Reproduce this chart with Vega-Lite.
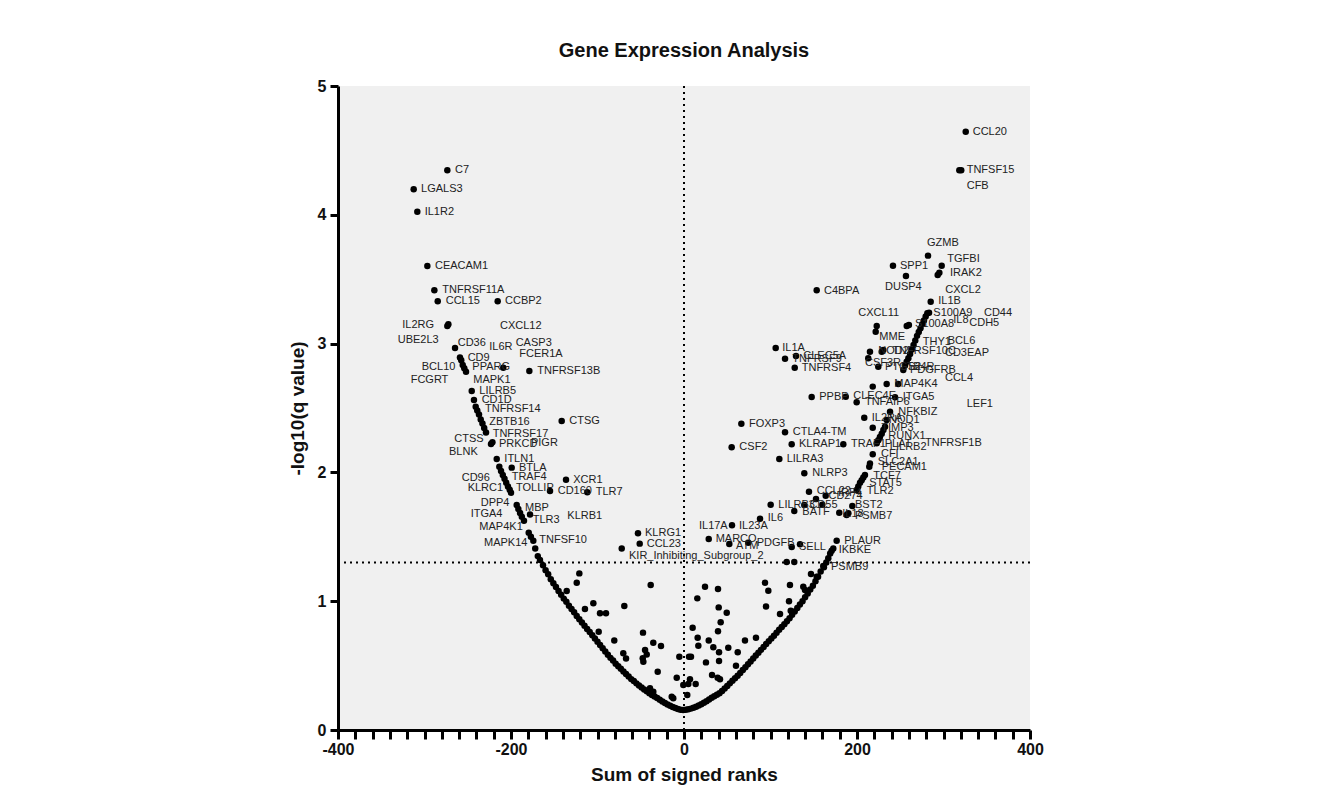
{
  "$schema": "https://vega.github.io/schema/vega-lite/v6.json",
  "width": 692,
  "height": 644,
  "autosize": {"type": "none"},
  "padding": {"left": 338, "top": 86, "right": 301, "bottom": 57},
  "background": "white",
  "title": {"text": "Gene Expression Analysis", "font": "Liberation Sans", "fontSize": 20, "fontWeight": "bold", "color": "#111", "anchor": "middle", "offset": 17},
  "config": {
    "view": {"fill": "#f0f0f0", "stroke": null},
    "axis": {"grid": false, "domainColor": "#000", "domainWidth": 3, "tickColor": "#000", "tickWidth": 3,
      "labelFont": "Liberation Sans", "labelFontSize": 16, "labelFontWeight": "bold", "labelColor": "#111",
      "titleFont": "Liberation Sans", "titleFontSize": 19, "titleFontWeight": "bold", "titleColor": "#111"}
  },
  "datasets": {
    "pts": [
      {"x":-273.6,"y":4.345},{"x":-312.5,"y":4.198},{"x":-308.3,"y":4.024},{"x":-296.7,"y":3.602},{"x":-288.6,"y":3.414},{"x":-284.7,"y":3.328},{"x":-215.4,"y":3.328},{"x":-273.6,"y":3.137},{"x":-272.4,"y":3.15},{"x":-264.7,"y":2.966},{"x":-259,"y":2.893},{"x":-257.5,"y":2.87},{"x":-255.8,"y":2.834},{"x":-254,"y":2.808},{"x":-252,"y":2.782},{"x":-208.9,"y":2.813},{"x":-178.8,"y":2.787},{"x":-245.4,"y":2.632},{"x":-242.8,"y":2.562},{"x":-240.8,"y":2.51},{"x":-239,"y":2.48},{"x":-237,"y":2.45},{"x":-235,"y":2.41},{"x":-233,"y":2.38},{"x":-231,"y":2.345},{"x":-228.9,"y":2.31},{"x":-141.4,"y":2.399},{"x":-223.1,"y":2.22},{"x":-221.5,"y":2.235},{"x":-216.5,"y":2.104},{"x":-199.2,"y":2.037},{"x":-213.5,"y":2.044},{"x":-211.5,"y":2.01},{"x":-209.5,"y":1.98},{"x":-207.5,"y":1.95},{"x":-205.5,"y":1.92},{"x":-203.5,"y":1.89},{"x":-201.5,"y":1.865},{"x":-200,"y":1.842},{"x":-136.4,"y":1.943},{"x":-154.9,"y":1.856},{"x":-111.8,"y":1.845},{"x":-193.4,"y":1.747},{"x":-191.5,"y":1.715},{"x":-189.5,"y":1.685},{"x":-187.5,"y":1.655},{"x":-185,"y":1.625},{"x":-178,"y":1.674},{"x":-179.5,"y":1.532},{"x":-177,"y":1.5},{"x":-174.2,"y":1.47},{"x":-172,"y":1.41},{"x":-53.2,"y":1.527},{"x":-51.2,"y":1.447},{"x":-72,"y":1.41},
      {"x":-169,"y":1.35},{"x":-166.5,"y":1.32},{"x":-163,"y":1.28},{"x":-160,"y":1.24},{"x":-157,"y":1.21},{"x":-154,"y":1.17},{"x":-151,"y":1.14},{"x":-148,"y":1.11},{"x":-145,"y":1.08},{"x":-142,"y":1.05},{"x":-139,"y":1.02},{"x":-136,"y":0.995},{"x":-133,"y":0.965},{"x":-130,"y":0.94},{"x":-127,"y":0.915},{"x":-124,"y":0.885},{"x":-121,"y":0.86},{"x":-118,"y":0.835},{"x":-115,"y":0.81},{"x":-112,"y":0.785},{"x":-109,"y":0.76},{"x":-106,"y":0.735},{"x":-103,"y":0.71},{"x":-100,"y":0.685},{"x":-97,"y":0.66},{"x":-94,"y":0.635},{"x":-91,"y":0.61},{"x":-88,"y":0.585},{"x":-85,"y":0.56},{"x":-82,"y":0.54},{"x":-79,"y":0.515},{"x":-76,"y":0.495},{"x":-73,"y":0.475},{"x":-70,"y":0.455},{"x":-67,"y":0.435},{"x":-64,"y":0.415},{"x":-61,"y":0.395},{"x":-58,"y":0.38},{"x":-55,"y":0.362},{"x":-52,"y":0.345},{"x":-49,"y":0.33},{"x":-46,"y":0.315},{"x":-43,"y":0.3},{"x":-40,"y":0.285},{"x":-37,"y":0.272},{"x":-34,"y":0.26},{"x":-31,"y":0.248},{"x":-28,"y":0.235},{"x":-25,"y":0.222},{"x":-22,"y":0.21},{"x":-19,"y":0.198},{"x":-16,"y":0.188},{"x":-13,"y":0.178},{"x":-10,"y":0.17},{"x":-7,"y":0.163},{"x":-4,"y":0.158},{"x":-1,"y":0.155},
      {"x":2,"y":0.157},{"x":5,"y":0.161},{"x":8,"y":0.166},{"x":11,"y":0.172},{"x":14,"y":0.18},{"x":17,"y":0.19},{"x":20,"y":0.2},{"x":23,"y":0.212},{"x":26,"y":0.224},{"x":29,"y":0.237},{"x":32,"y":0.25},{"x":35,"y":0.262},{"x":38,"y":0.274},{"x":41,"y":0.285},{"x":44,"y":0.302},{"x":47,"y":0.322},{"x":50,"y":0.342},{"x":53,"y":0.362},{"x":56,"y":0.382},{"x":59,"y":0.402},{"x":62,"y":0.422},{"x":65,"y":0.443},{"x":68,"y":0.465},{"x":71,"y":0.487},{"x":74,"y":0.51},{"x":77,"y":0.532},{"x":80,"y":0.555},{"x":83,"y":0.578},{"x":86,"y":0.6},{"x":89,"y":0.622},{"x":92,"y":0.645},{"x":95,"y":0.668},{"x":98,"y":0.69},{"x":101,"y":0.71},{"x":104,"y":0.732},{"x":107,"y":0.755},{"x":110,"y":0.778},{"x":113,"y":0.8},{"x":116,"y":0.822},{"x":119,"y":0.845},{"x":122,"y":0.868},{"x":125,"y":0.895},{"x":128,"y":0.92},{"x":131,"y":0.948},{"x":134,"y":0.975},{"x":137,"y":1.0},{"x":140,"y":1.03},{"x":143,"y":1.06},{"x":146,"y":1.09},{"x":149,"y":1.12},{"x":152,"y":1.155},{"x":155,"y":1.19},{"x":158,"y":1.23},{"x":161.8,"y":1.263},{"x":164.5,"y":1.3},{"x":166.8,"y":1.333},{"x":169,"y":1.37},{"x":170.7,"y":1.392},{"x":172.6,"y":1.41},{"x":176.5,"y":1.47},
      {"x":188,"y":1.669},{"x":190,"y":1.682},{"x":194.6,"y":1.739},{"x":179.5,"y":1.687},{"x":159.9,"y":1.749},{"x":139.1,"y":1.747},{"x":100.2,"y":1.749},{"x":127.5,"y":1.7},{"x":144.5,"y":1.85},{"x":152.6,"y":1.793},{"x":163.8,"y":1.819},{"x":139.1,"y":1.993},{"x":110.2,"y":2.104},{"x":124.5,"y":2.218},{"x":184.2,"y":2.218},{"x":55.1,"y":2.195},{"x":116.8,"y":2.311},{"x":66.3,"y":2.378},{"x":87.9,"y":1.641},{"x":55.5,"y":1.589},{"x":28.6,"y":1.483},{"x":52.4,"y":1.444},{"x":74.3,"y":1.454},{"x":124.5,"y":1.421},{"x":134.1,"y":1.442},{"x":118.7,"y":1.304},{"x":127.5,"y":1.304},
      {"x":199.6,"y":1.863},{"x":201.5,"y":1.89},{"x":203.5,"y":1.92},{"x":205.4,"y":1.94},{"x":207.3,"y":1.96},{"x":209.2,"y":1.98},{"x":214.2,"y":2.044},{"x":215,"y":2.07},{"x":218.2,"y":2.141},{"x":222.8,"y":2.226},{"x":224.6,"y":2.25},{"x":226.5,"y":2.275},{"x":228.6,"y":2.3},{"x":230.5,"y":2.33},{"x":232.4,"y":2.355},{"x":218.2,"y":2.347},{"x":234.3,"y":2.407},{"x":238.2,"y":2.471},{"x":208.4,"y":2.425},{"x":199.6,"y":2.544},{"x":187,"y":2.588},{"x":147.6,"y":2.585},{"x":244,"y":2.583},{"x":218.2,"y":2.666},{"x":234.3,"y":2.686},{"x":247.7,"y":2.686},{"x":224.6,"y":2.82},{"x":213,"y":2.886},{"x":215,"y":2.937},{"x":228.6,"y":2.937},{"x":230.4,"y":2.95},{"x":253.5,"y":2.795},{"x":255.5,"y":2.83},{"x":257.4,"y":2.86},{"x":259.4,"y":2.886},{"x":261.4,"y":2.92},{"x":263.4,"y":2.955},{"x":265.4,"y":2.99},{"x":267.4,"y":3.025},{"x":269.4,"y":3.06},{"x":271.4,"y":3.09},{"x":273.4,"y":3.12},{"x":275.4,"y":3.15},{"x":277.4,"y":3.18},{"x":279.4,"y":3.21},{"x":281.3,"y":3.235},{"x":283.3,"y":3.24},{"x":285.2,"y":3.325},{"x":222.8,"y":3.137},{"x":221.6,"y":3.092},{"x":257.5,"y":3.137},{"x":260,"y":3.144},{"x":153.4,"y":3.414},{"x":106,"y":2.966},{"x":116.8,"y":2.883},{"x":129.5,"y":2.904},{"x":128,"y":2.813},{"x":282.1,"y":3.683},{"x":241.6,"y":3.605},{"x":297.9,"y":3.605},{"x":293.3,"y":3.533},{"x":295.2,"y":3.551},{"x":256.6,"y":3.525},{"x":325.7,"y":4.645},{"x":318.3,"y":4.345},{"x":320.5,"y":4.345},
      {"x":-121,"y":1.216},{"x":-124,"y":1.144},{"x":-38.5,"y":1.126},{"x":-135.6,"y":1.079},{"x":-69,"y":0.963},{"x":-104.8,"y":0.984},{"x":-114.5,"y":0.939},{"x":-97.1,"y":0.906},{"x":-90.2,"y":0.906},{"x":-98.6,"y":0.763},{"x":-80.6,"y":0.694},{"x":-47.4,"y":0.756},{"x":-35.5,"y":0.678},{"x":-26.6,"y":0.652},{"x":-45,"y":0.621},{"x":-43.1,"y":0.587},{"x":-47.7,"y":0.557},{"x":-47,"y":0.53},{"x":-70.2,"y":0.595},{"x":-67,"y":0.556},{"x":-30.4,"y":0.453},{"x":-5.4,"y":0.569},{"x":5.8,"y":0.569},{"x":8.1,"y":0.569},{"x":-8.4,"y":0.406},{"x":-0.8,"y":0.349},{"x":5,"y":0.357},{"x":13.5,"y":0.357},{"x":6.9,"y":0.394},{"x":3.8,"y":0.272},{"x":-14.2,"y":0.259},{"x":-12.4,"y":0.246},{"x":-39.3,"y":0.324},{"x":-35.5,"y":0.297},
      {"x":24.3,"y":1.113},{"x":39.3,"y":1.095},{"x":15.4,"y":1.022},{"x":40.1,"y":0.952},{"x":49.4,"y":0.911},{"x":42.4,"y":0.836},{"x":39.3,"y":0.766},{"x":10,"y":0.794},{"x":15.8,"y":0.717},{"x":28.6,"y":0.694},{"x":16.6,"y":0.655},{"x":33.9,"y":0.642},{"x":40.5,"y":0.603},{"x":51.2,"y":0.639},{"x":62.1,"y":0.603},{"x":70.5,"y":0.694},{"x":83.2,"y":0.717},{"x":25.4,"y":0.525},{"x":40.5,"y":0.536},{"x":32.4,"y":0.427},{"x":38.9,"y":0.406},{"x":41.6,"y":0.394},{"x":60.1,"y":0.499},{"x":93.6,"y":1.144},{"x":97.5,"y":1.082},{"x":94.8,"y":0.958},{"x":122.5,"y":1.126},{"x":121.4,"y":0.999},{"x":111,"y":0.901},{"x":123.4,"y":0.926},{"x":137.9,"y":1.113},{"x":139.9,"y":1.087},{"x":146.8,"y":1.211},{"x":153.4,"y":1.19},{"x":161,"y":1.273}
    ],
    "labs": [
      {"gene":"C7","x":-264.7,"y":4.345},{"gene":"LGALS3","x":-304.0,"y":4.198},{"gene":"IL1R2","x":-299.8,"y":4.024},{"gene":"CEACAM1","x":-287.9,"y":3.602},{"gene":"TNFRSF11A","x":-279.4,"y":3.414},{"gene":"CCL15","x":-275.5,"y":3.328},{"gene":"CCBP2","x":-206.9,"y":3.328},
      {"gene":"IL2RG","x":-325.7,"y":3.144},{"gene":"CXCL12","x":-212.7,"y":3.139},{"gene":"UBE2L3","x":-331,"y":3.028},{"gene":"CD36","x":-261.6,"y":3.002},{"gene":"IL6R","x":-225.1,"y":2.976},{"gene":"CASP3","x":-194.6,"y":3.002},{"gene":"FCER1A","x":-190.4,"y":2.917},{"gene":"CD9","x":-250.1,"y":2.891},{"gene":"BCL10","x":-303.2,"y":2.821},{"gene":"PPARG","x":-244.7,"y":2.821},{"gene":"TNFRSF13B","x":-169.6,"y":2.787},{"gene":"FCGRT","x":-316,"y":2.717},{"gene":"MAPK1","x":-243.6,"y":2.717},{"gene":"LILRB5","x":-236.6,"y":2.632},{"gene":"CD1D","x":-233.9,"y":2.562},{"gene":"TNFRSF14","x":-230.1,"y":2.495},{"gene":"ZBTB16","x":-225.1,"y":2.391},{"gene":"CTSG","x":-132.6,"y":2.399},{"gene":"TNFRSF17","x":-221.2,"y":2.298},{"gene":"CTSS","x":-265.5,"y":2.259},{"gene":"PRKCD","x":-213.9,"y":2.218},{"gene":"PIGR","x":-176.9,"y":2.231},{"gene":"BLNK","x":-271.7,"y":2.161},{"gene":"ITLN1","x":-207.7,"y":2.104},{"gene":"BTLA","x":-190.8,"y":2.037},{"gene":"CD96","x":-257,"y":1.954},{"gene":"TRAF4","x":-199.2,"y":1.967},{"gene":"XCR1","x":-128,"y":1.943},{"gene":"KLRC1","x":-250.1,"y":1.877},{"gene":"TOLLIP","x":-194.2,"y":1.877},{"gene":"CD160","x":-146,"y":1.856},{"gene":"TLR7","x":-102.1,"y":1.845},
      {"gene":"DPP4","x":-235,"y":1.76},{"gene":"MBP","x":-183.8,"y":1.721},{"gene":"ITGA4","x":-246.6,"y":1.675},{"gene":"TLR3","x":-174.9,"y":1.63},{"gene":"KLRB1","x":-134.9,"y":1.661},{"gene":"MAP4K1","x":-236.6,"y":1.578},{"gene":"TNFSF10","x":-167.3,"y":1.475},{"gene":"MAPK14","x":-231.2,"y":1.449},{"gene":"KLRG1","x":-45.1,"y":1.527},{"gene":"CCL23","x":-43.1,"y":1.447},{"gene":"KIR_Inhibiting_Subgroup_2","x":-63.6,"y":1.353},
      {"gene":"CCL20","x":333.8,"y":4.645},{"gene":"TNFSF15","x":326.8,"y":4.345},{"gene":"CFB","x":326.8,"y":4.224},{"gene":"GZMB","x":280.9,"y":3.783},{"gene":"TGFBI","x":304.4,"y":3.657},{"gene":"SPP1","x":249.7,"y":3.605},{"gene":"IRAK2","x":307.5,"y":3.546},{"gene":"DUSP4","x":232.4,"y":3.442},{"gene":"C4BPA","x":161.8,"y":3.411},{"gene":"CXCL2","x":302.1,"y":3.416},
      {"gene":"IL1B","x":294,"y":3.331},{"gene":"CXCL11","x":201.5,"y":3.235},{"gene":"S100A9","x":288.2,"y":3.235},{"gene":"CD44","x":346.8,"y":3.235},{"gene":"IL8","x":311.3,"y":3.183},{"gene":"S100A8","x":267.1,"y":3.152},{"gene":"CDH5","x":329.8,"y":3.157},{"gene":"MME","x":225.8,"y":3.054},{"gene":"THY1","x":276,"y":3.015},{"gene":"BCL6","x":304.9,"y":3.023},{"gene":"NOD2","x":224.6,"y":2.943},{"gene":"TNFRSF10C","x":240.8,"y":2.943},{"gene":"CD3EAP","x":301.7,"y":2.93},{"gene":"IL1A","x":113.6,"y":2.966},{"gene":"CLEC5A","x":137.9,"y":2.904},{"gene":"TNFRSF9","x":125.2,"y":2.88},{"gene":"TNFRSF4","x":136.1,"y":2.813},{"gene":"CSF3R","x":209.2,"y":2.852},{"gene":"PTGS2","x":232.4,"y":2.82},{"gene":"LTB4R","x":251,"y":2.82},{"gene":"PDGFRB","x":261.3,"y":2.795},{"gene":"CCL4","x":301.7,"y":2.73},{"gene":"MAP4K4","x":243.1,"y":2.686},{"gene":"PPBP","x":156.4,"y":2.585},{"gene":"CLEC4E","x":195.7,"y":2.593},{"gene":"ITGA5","x":252.8,"y":2.588},{"gene":"TNFAIP6","x":209.2,"y":2.544},{"gene":"LEF1","x":326.8,"y":2.531},{"gene":"NFKBIZ","x":247.7,"y":2.471},{"gene":"IL2RA","x":217,"y":2.425},{"gene":"NOD1","x":237,"y":2.41},{"gene":"TIMP3","x":228,"y":2.347},{"gene":"FOXP3","x":75.1,"y":2.378},{"gene":"CTLA4-TM","x":125.7,"y":2.311},
      {"gene":"CSF2","x":64,"y":2.195},{"gene":"KLRAP1","x":132.9,"y":2.218},{"gene":"TRAF1","x":193.1,"y":2.218},{"gene":"RUNX1","x":236.2,"y":2.285},{"gene":"TNFRSF1B","x":278.6,"y":2.231},{"gene":"PLAT","x":232,"y":2.22},{"gene":"LILRB2","x":238,"y":2.2},{"gene":"CFI","x":227.7,"y":2.141},{"gene":"SLC2A1","x":223.9,"y":2.078},{"gene":"PECAM1","x":228.6,"y":2.044},{"gene":"LILRA3","x":118.7,"y":2.104},{"gene":"TCF7","x":218.8,"y":1.975},{"gene":"STAT5","x":214.2,"y":1.915},{"gene":"NLRP3","x":148.3,"y":1.993},{"gene":"TLR2","x":211.2,"y":1.858},{"gene":"CCL22","x":153.4,"y":1.858},{"gene":"CD274","x":167,"y":1.815},{"gene":"IRF4","x":178,"y":1.84},{"gene":"LILRB3","x":109,"y":1.747},{"gene":"CD55","x":145,"y":1.747},{"gene":"BST2","x":197.7,"y":1.747},{"gene":"BATF","x":136.8,"y":1.695},{"gene":"IL18","x":183,"y":1.68},{"gene":"PSMB7","x":197.7,"y":1.664},{"gene":"IL6","x":96.8,"y":1.646},{"gene":"IL17A","x":17.3,"y":1.586},{"gene":"IL23A","x":63.6,"y":1.586},{"gene":"MARCO","x":36.6,"y":1.48},{"gene":"ATM","x":60.1,"y":1.431},{"gene":"PDGFB","x":84,"y":1.454},{"gene":"SELL","x":132.9,"y":1.418},{"gene":"PLAUR","x":185.3,"y":1.47},{"gene":"IKBKE","x":178.8,"y":1.398},{"gene":"PSMB9","x":169.9,"y":1.268}
    ]
  },
  "layer": [
    {
      "data": {"values": [{"x": 0}]},
      "mark": {"type": "rule", "color": "#000", "strokeWidth": 2, "strokeDash": [2, 4]},
      "encoding": {"x": {"field": "x", "type": "quantitative", "scale": {"domain": [-400, 400], "nice": false, "zero": false},
        "axis": {"title": "Sum of signed ranks", "values": [-400,-380,-360,-340,-320,-300,-280,-260,-240,-220,-200,-180,-160,-140,-120,-100,-80,-60,-40,-20,0,20,40,60,80,100,120,140,160,180,200,220,240,260,280,300,320,340,360,380,400],
          "tickCount": 100,
          "labelExpr": "abs(datum.value) % 200 == 0 ? (datum.value < 0 ? '-' : '') + abs(datum.value) : ''", "labelOverlap": false, "labelFlush": false, "labelBound": false,
          "tickSize": 9,
          "encode": {"ticks": {"update": {"y2": {"signal": "abs(datum.value) % 200 == 0 ? 9 : 5"}}}},
          "labelPadding": 2, "titlePadding": 8}}}
    },
    {
      "data": {"values": [{"y": 1.301}]},
      "mark": {"type": "rule", "color": "#000", "strokeWidth": 2, "strokeDash": [2, 4]},
      "encoding": {"y": {"field": "y", "type": "quantitative", "scale": {"domain": [0, 5], "nice": false},
        "axis": {"title": "-log10(q value)", "values": [0,1,2,3,4,5], "format": "d", "tickSize": 8, "labelPadding": 4, "titlePadding": 10}}}
    },
    {
      "data": {"name": "pts"},
      "mark": {"type": "circle", "color": "#000", "size": 42, "opacity": 1},
      "encoding": {"x": {"field": "x", "type": "quantitative"}, "y": {"field": "y", "type": "quantitative"}}
    },
    {
      "data": {"name": "labs"},
      "mark": {"type": "text", "align": "left", "baseline": "middle", "font": "Liberation Sans", "fontSize": 11, "color": "#222"},
      "encoding": {"x": {"field": "x", "type": "quantitative"}, "y": {"field": "y", "type": "quantitative"}, "text": {"field": "gene"}}
    }
  ]
}
